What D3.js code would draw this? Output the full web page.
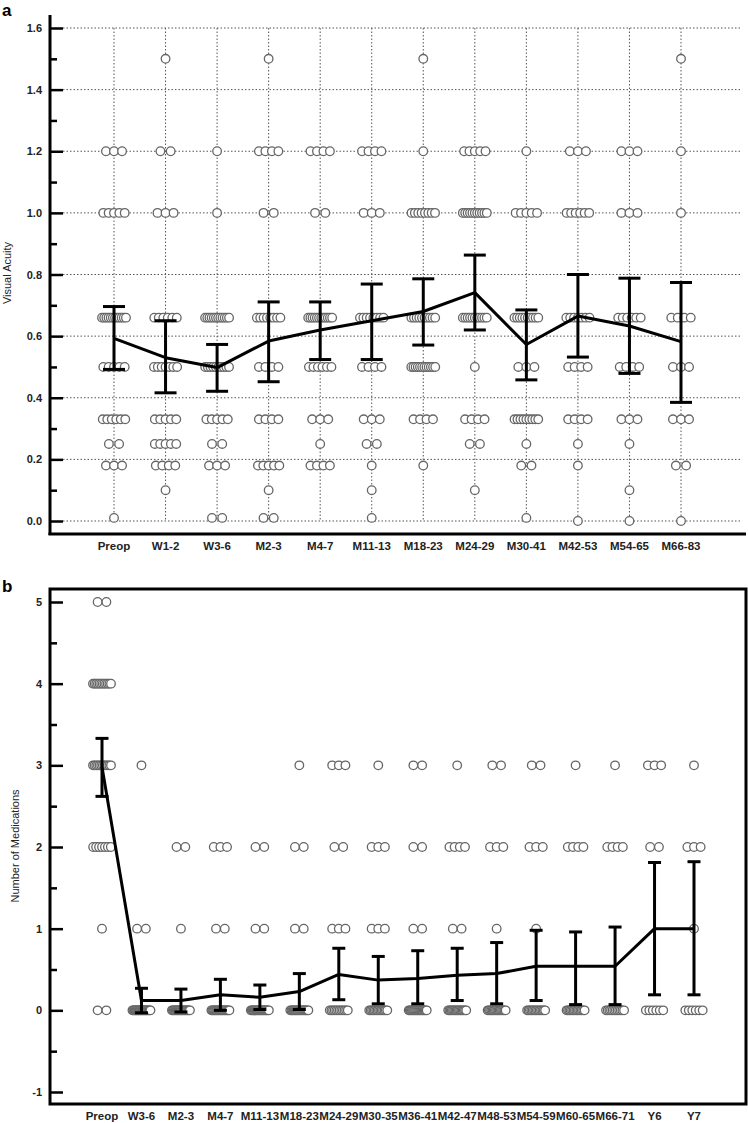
<!DOCTYPE html>
<html>
<head>
<meta charset="utf-8">
<script src="https://cdn.jsdelivr.net/npm/d3@7"></script>
<style>
  body { margin: 0; background: #fff; }
  svg { display: block; font-family: "Liberation Sans", Arial, sans-serif; }
</style>
</head>
<body>
<svg id="chart" width="748" height="1123"></svg>
<script>
// ---- panel a : visual acuity ----
const acuityCats = ['Preop', 'W1-2', 'W3-6', 'M2-3', 'M4-7', 'M11-13', 'M18-23', 'M24-29', 'M30-41', 'M42-53', 'M54-65', 'M66-83'];
const acuityLevels = [1.5, 1.2, 1.0, 0.66, 0.5, 0.33, 0.25, 0.18, 0.1, 0.01, 0.0];
// number of eyes at each level (rows follow acuityLevels, columns follow acuityCats)
const acuityCounts = [
  [0, 1, 0, 1, 0, 0, 1, 0, 0, 0, 0, 1],
  [3, 2, 1, 4, 4, 4, 1, 5, 1, 3, 3, 1],
  [5, 3, 1, 2, 2, 3, 8, 11, 5, 6, 3, 1],
  [12, 6, 12, 8, 12, 8, 10, 11, 10, 7, 6, 4],
  [5, 7, 10, 4, 6, 4, 12, 1, 3, 4, 4, 3],
  [6, 5, 5, 4, 3, 3, 4, 4, 9, 4, 3, 3],
  [2, 5, 2, 0, 1, 2, 0, 2, 1, 1, 1, 0],
  [3, 4, 3, 5, 4, 1, 1, 0, 2, 1, 0, 2],
  [0, 1, 0, 1, 0, 1, 0, 1, 0, 0, 1, 0],
  [1, 0, 2, 2, 0, 1, 0, 0, 1, 0, 0, 0],
  [0, 0, 0, 0, 0, 0, 0, 0, 0, 1, 1, 1]
];
const acuityMean = [0.593, 0.53, 0.498, 0.584, 0.62, 0.65, 0.68, 0.741, 0.573, 0.665, 0.633, 0.582];
const acuityHigh = [0.696, 0.65, 0.573, 0.711, 0.711, 0.769, 0.786, 0.863, 0.685, 0.80, 0.788, 0.774];
const acuityLow  = [0.492, 0.416, 0.421, 0.452, 0.524, 0.524, 0.571, 0.62, 0.458, 0.532, 0.479, 0.385];
const acuityTicks = [0, 0.2, 0.4, 0.6, 0.8, 1.0, 1.2, 1.4, 1.6];
const acuityMinor = [0.1, 0.3, 0.5, 0.7, 0.9, 1.1, 1.3, 1.5];

// ---- panel b : number of medications ----
const medCats = ['Preop', 'W3-6', 'M2-3', 'M4-7', 'M11-13', 'M18-23', 'M24-29', 'M30-35', 'M36-41', 'M42-47', 'M48-53', 'M54-59', 'M60-65', 'M66-71', 'Y6', 'Y7'];
const medLevels = [5, 4, 3, 2, 1, 0];
const medCounts = [
  [2, 0, 0, 0, 0, 0, 0, 0, 0, 0, 0, 0, 0, 0, 0, 0],
  [12, 0, 0, 0, 0, 0, 0, 0, 0, 0, 0, 0, 0, 0, 0, 0],
  [12, 1, 0, 0, 0, 1, 3, 1, 2, 1, 2, 2, 1, 1, 3, 1],
  [7, 0, 2, 3, 2, 2, 2, 3, 2, 4, 3, 3, 4, 4, 2, 3],
  [1, 2, 1, 2, 2, 2, 3, 3, 2, 2, 1, 1, 0, 0, 0, 1],
  [2, 24, 20, 20, 20, 18, 12, 14, 18, 16, 16, 14, 14, 12, 6, 6]
];
const medMean = [2.98, 0.12, 0.12, 0.19, 0.16, 0.23, 0.44, 0.37, 0.39, 0.43, 0.45, 0.54, 0.54, 0.54, 1.0, 1.0];
const medHigh = [3.33, 0.27, 0.26, 0.38, 0.31, 0.45, 0.76, 0.66, 0.73, 0.76, 0.83, 0.98, 0.96, 1.02, 1.81, 1.82];
const medLow  = [2.62, -0.03, -0.02, 0.0, 0.01, 0.01, 0.13, 0.08, 0.08, 0.12, 0.08, 0.12, 0.07, 0.07, 0.19, 0.19];
const medTicks = [-1, 0, 1, 2, 3, 4, 5];
const medMinor = [-0.5, 0.5, 1.5, 2.5, 3.5, 4.5];

const svg = d3.select('#chart');
const dotStroke = '#666';

// spread n overlapping dots around the category centre
function spread(n, maxSpan, k) {
  if (n <= 1) return [0];
  const span = maxSpan * (1 - Math.exp(-(n - 1) / k));
  return d3.range(n).map(i => -span / 2 + i * span / (n - 1));
}

function dots(g, cats, levels, counts, x, y, maxSpan, k) {
  const pts = [];
  levels.forEach((lv, r) => {
    cats.forEach((c, i) => {
      if (counts[r][i] === 0) return;
      spread(counts[r][i], maxSpan, k).forEach(off => pts.push({ x: x(i) + off, v: lv }));
    });
  });
  g.selectAll('circle')
    .data(pts)
    .enter()
    .append('circle')
    .attr('cx', d => d.x)
    .attr('cy', d => y(d.v))
    .attr('r', 4.3)
    .attr('fill', '#fff')
    .attr('stroke', dotStroke)
    .attr('stroke-width', 1.3);
}

function errorBars(g, n, x, y, mean, hi, lo, capW) {
  const idx = d3.range(n);
  g.selectAll('line.whisker')
    .data(idx).enter().append('line')
    .attr('x1', i => x(i)).attr('x2', i => x(i))
    .attr('y1', i => y(hi[i])).attr('y2', i => y(lo[i]))
    .attr('stroke', '#000').attr('stroke-width', 3);
  [hi, lo].forEach(arr => {
    g.selectAll(null)
      .data(idx).enter().append('line')
      .attr('x1', i => x(i) - capW / 2).attr('x2', i => x(i) + capW / 2)
      .attr('y1', i => y(arr[i])).attr('y2', i => y(arr[i]))
      .attr('stroke', '#000').attr('stroke-width', 3);
  });
  g.append('path')
    .datum(idx)
    .attr('fill', 'none')
    .attr('stroke', '#000')
    .attr('stroke-width', 3)
    .attr('stroke-linejoin', 'round')
    .attr('d', d3.line().x(i => x(i)).y(i => y(mean[i])));
}

function yTicks(g, y, major, minor, fmt) {
  g.append('g')
    .attr('transform', 'translate(50,0)')
    .call(d3.axisLeft(y).tickValues(major).tickSize(-13).tickPadding(8).tickFormat(fmt))
    .call(a => a.select('.domain').remove())
    .call(a => a.selectAll('line').attr('stroke', '#000').attr('stroke-width', 2.5))
    .call(a => a.selectAll('text').attr('font-size', 11).attr('font-weight', 'bold').attr('fill', '#222')
      .attr('font-family', '"Liberation Sans", Arial, sans-serif'));
  g.append('g')
    .attr('transform', 'translate(50,0)')
    .call(d3.axisLeft(y).tickValues(minor).tickSize(-7).tickFormat(''))
    .call(a => a.select('.domain').remove())
    .call(a => a.selectAll('line').attr('stroke', '#000').attr('stroke-width', 2.5));
}

function xLabels(g, cats, x, baseY) {
  g.selectAll('text.xl')
    .data(cats).enter().append('text')
    .attr('x', (d, i) => x(i))
    .attr('y', baseY)
    .attr('text-anchor', 'middle')
    .attr('font-size', 11.5)
    .attr('font-weight', 'bold')
    .attr('fill', '#222')
    .text(d => d);
}

// ================= panel a =================
const xa = d3.scaleLinear().domain([0, acuityCats.length - 1]).range([114, 681]);
const ya = d3.scaleLinear().domain([0, 1.6]).range([521, 28]);
const ga = svg.append('g');

ga.append('text').attr('x', 2).attr('y', 16).attr('font-size', 17).attr('font-weight', 'bold').text('a');

// dotted grid
ga.selectAll('line.hgrid')
  .data(acuityTicks).enter().append('line')
  .attr('x1', 63).attr('x2', 742)
  .attr('y1', d => ya(d)).attr('y2', d => ya(d))
  .attr('stroke', '#555').attr('stroke-width', 1).attr('stroke-dasharray', '1.5,2');
ga.selectAll('line.vgrid')
  .data(acuityCats).enter().append('line')
  .attr('x1', (d, i) => xa(i)).attr('x2', (d, i) => xa(i))
  .attr('y1', ya(1.6)).attr('y2', ya(0))
  .attr('stroke', '#555').attr('stroke-width', 1).attr('stroke-dasharray', '1.5,2');

dots(ga.append('g'), acuityCats, acuityLevels, acuityCounts, xa, ya, 24, 1.8);
errorBars(ga.append('g'), acuityCats.length, xa, ya, acuityMean, acuityHigh, acuityLow, 22);

// axis lines
ga.append('line').attr('x1', 50).attr('x2', 50).attr('y1', 15).attr('y2', 535)
  .attr('stroke', '#000').attr('stroke-width', 3);
ga.append('line').attr('x1', 48.5).attr('x2', 746).attr('y1', 534).attr('y2', 534)
  .attr('stroke', '#000').attr('stroke-width', 3);
yTicks(ga, ya, acuityTicks, acuityMinor, d3.format('.1f'));
xLabels(ga, acuityCats, xa, 550);

ga.append('text')
  .attr('transform', 'translate(11,273) rotate(-90)')
  .attr('text-anchor', 'middle')
  .attr('font-size', 11)
  .attr('fill', '#222')
  .text('Visual Acuity');

// ================= panel b =================
const xb = d3.scaleLinear().domain([0, medCats.length - 1]).range([102, 694]);
const yb = d3.scaleLinear().domain([-1, 5]).range([1092, 602]);
const gb = svg.append('g');

gb.append('text').attr('x', 2).attr('y', 592).attr('font-size', 17).attr('font-weight', 'bold').text('b');

dots(gb.append('g'), medCats, medLevels, medCounts, xb, yb, 18, 1.5);
errorBars(gb.append('g'), medCats.length, xb, yb, medMean, medHigh, medLow, 13);

gb.append('rect')
  .attr('x', 50).attr('y', 589).attr('width', 696).attr('height', 515)
  .attr('fill', 'none').attr('stroke', '#000').attr('stroke-width', 3);
yTicks(gb, yb, medTicks, medMinor, d => String(d)); // plain hyphen for -1, as in the original
xLabels(gb, medCats, xb, 1120);

gb.append('text')
  .attr('transform', 'translate(19,846) rotate(-90)')
  .attr('text-anchor', 'middle')
  .attr('font-size', 11)
  .attr('fill', '#222')
  .text('Number of Medications');
</script>
</body>
</html>
